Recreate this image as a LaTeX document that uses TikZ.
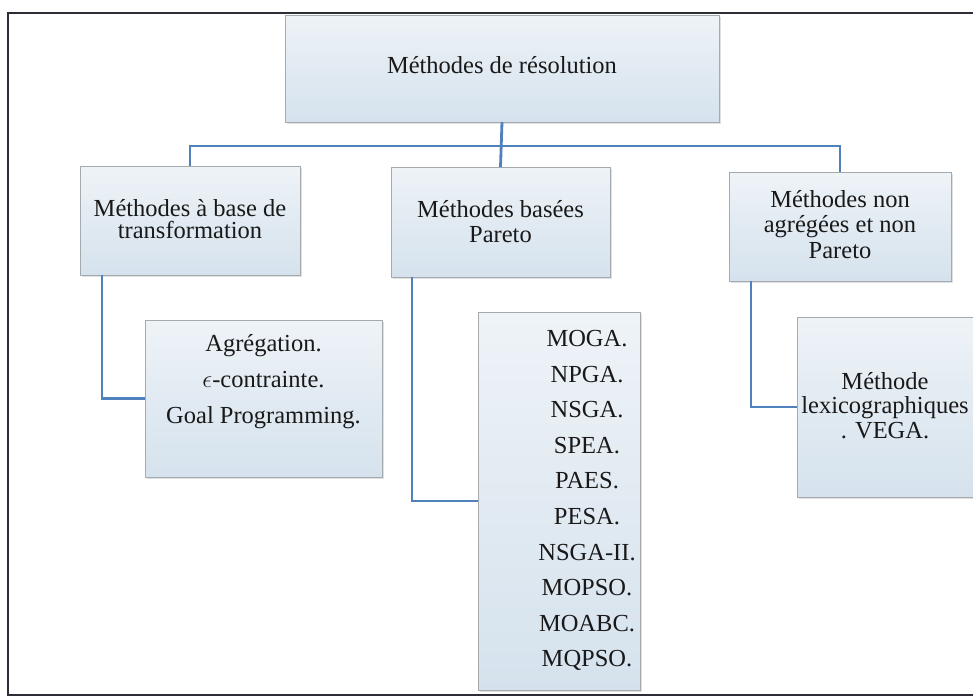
\documentclass[tikz,border=0pt]{standalone}
\usepackage{fontspec}
\setmainfont{Liberation Serif}
\usetikzlibrary{shadows}
\definecolor{connc}{RGB}{79,129,189}
\definecolor{boxtop}{RGB}{238,243,247}
\definecolor{boxbot}{RGB}{213,226,237}
\definecolor{boxline}{RGB}{165,170,175}
\definecolor{framec}{RGB}{45,45,55}
\definecolor{txt}{RGB}{25,25,25}
% width, height, top space, baselineskip, leftskip, rightskip, text
\newcommand{\btext}[7]{\parbox[c][#2][t]{#1}{\fontsize{24.5}{#4}\selectfont\centering\leftskip=#5 plus 1fil\rightskip=#6 plus 1fil\relax\vspace*{#3}\rule{0pt}{20pt}#7\par}}
\tikzset{
  box/.style={draw=boxline, line width=0.8pt, top color=boxtop, bottom color=boxbot,
    inner sep=0pt, outer sep=0pt, text=txt,
    drop shadow={shadow xshift=1.5pt, shadow yshift=-1.5pt, fill=black, opacity=0.12}},
  conn/.style={draw=connc, line width=2.8pt, line join=miter},
  frameline/.style={draw=framec, line width=2pt}
}
\begin{document}
\begin{tikzpicture}[x=1pt,y=-1pt]
\useasboundingbox (0,0) rectangle (973,696);
\fill[white] (0,0) rectangle (973,696);
\draw[frameline] (8,13) rectangle (995,695);

\node[box] (root) at (502,68.5) {\btext{434pt}{107pt}{38pt}{30pt}{0pt}{0pt}{Méthodes de résolution}};

\node[box] (c1) at (190,220.5) {\btext{220pt}{109pt}{30pt}{22.5pt}{0pt}{0pt}{Méthodes à base de\\transformation}};
\node[box] (c2) at (500.5,222) {\btext{219pt}{110pt}{30pt}{25pt}{0pt}{0pt}{Méthodes basées\\Pareto}};
\node[box] (c3) at (840,226.5) {\btext{222pt}{109pt}{15pt}{25.5pt}{0pt}{0pt}{Méthodes non\\agrégées et non\\Pareto}};

\node[box] (g1) at (263.5,398.5) {\btext{237pt}{157pt}{11.5pt}{35.8pt}{0pt}{0pt}{Agrégation.\\$\epsilon$-contrainte.\\Goal Programming.}};
\node[box] (g2) at (559,501) {\btext{162pt}{378pt}{14.7pt}{35.55pt}{56pt}{0pt}{MOGA.\\NPGA.\\NSGA.\\SPEA.\\PAES.\\PESA.\\NSGA-II.\\MOPSO.\\MOABC.\\MQPSO.}};
\node[box] (g3) at (889.5,407) {\btext{185pt}{180pt}{52pt}{24.5pt}{0pt}{9pt}{Méthode\\lexicographiques\\. VEGA.}};

\coordinate (bus) at (502,146);
\draw[conn] (c1.north) |- (bus) -| (c3.north);
\draw[conn] (root.south) -- (c2.north);
\draw[conn] ([xshift=22pt]c1.south west) |- (g1.west);
\draw[conn] ([xshift=21pt]c2.south west) |- (g2.west);
\draw[conn] ([xshift=22pt]c3.south west) |- (g3.west);
\end{tikzpicture}
\end{document}
